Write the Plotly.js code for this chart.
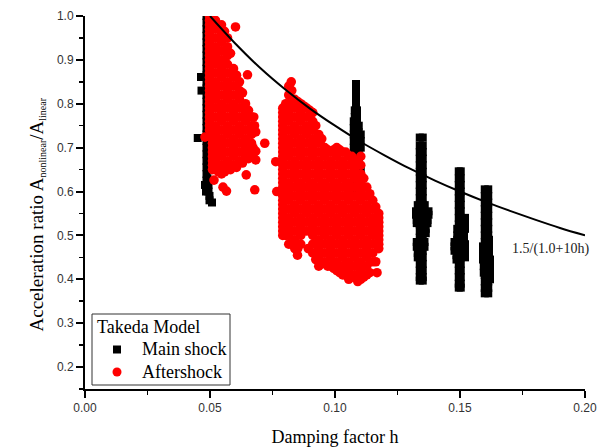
<!DOCTYPE html>
<html><head><meta charset="utf-8">
<script src="https://cdn.plot.ly/plotly-3.0.1.min.js"></script>
<style>html,body{margin:0;padding:0;background:#fff}</style></head>
<body><div id="chart" style="width:602px;height:447px"></div>
<script>
var curveX=[0.05,0.06,0.07,0.08,0.09,0.10,0.11,0.12,0.13,0.14,0.15,0.16,0.17,0.18,0.19,0.20];
var curveY=[1.0,0.938,0.882,0.833,0.789,0.75,0.714,0.682,0.652,0.625,0.6,0.577,0.556,0.536,0.517,0.5];

var mainColumnX=[0.0486,0.1084,0.1079,0.1088,0.1339,0.1351,0.1495,0.1503,0.1599,0.1613];
var mainColumnY=[
[1.0,0.985,0.97,0.955,0.94,0.925,0.91,0.895,0.88,0.865,0.85,0.835,0.82,0.805,0.79,0.775,0.76,0.745,0.73,0.715,0.70,0.685,0.67,0.655,0.64,0.625,0.61],
[0.845,0.83,0.815,0.80],
[0.785,0.77,0.755,0.74,0.725,0.71,0.695,0.68,0.665,0.65,0.635,0.62,0.605],
[0.785,0.77,0.755,0.74,0.725,0.71,0.695,0.68,0.665,0.65,0.635,0.62,0.605],
[0.723,0.705,0.69,0.675,0.66,0.645,0.63,0.615,0.60,0.585,0.57,0.555,0.54,0.525,0.51,0.495,0.48,0.465,0.45,0.435,0.42,0.405,0.397],
[0.723,0.705,0.69,0.675,0.66,0.645,0.63,0.615,0.60,0.585,0.57,0.555,0.54,0.525,0.51,0.495,0.48,0.465,0.45,0.435,0.42,0.405,0.397],
[0.646,0.63,0.615,0.60,0.585,0.57,0.555,0.54,0.525,0.51,0.495,0.48,0.465,0.45,0.435,0.42,0.405,0.39,0.381],
[0.646,0.63,0.615,0.60,0.585,0.57,0.555,0.54,0.525,0.51,0.495,0.48,0.465,0.45,0.435,0.42,0.405,0.39,0.381],
[0.605,0.59,0.575,0.56,0.545,0.53,0.515,0.50,0.485,0.47,0.455,0.44,0.425,0.41,0.395,0.38,0.368],
[0.605,0.59,0.575,0.56,0.545,0.53,0.515,0.50,0.485,0.47,0.455,0.44,0.425,0.41,0.395,0.38,0.368]
];
var mainExtraX=[0.0464,0.0466,0.0451,0.0490,0.0494,0.0494,0.0498,0.0498,0.0508,0.0480,0.0484,
0.1075,0.1075,0.1075,0.1075,0.1075,0.1095,0.1095,0.1095,0.1095,0.1095,0.1095,0.1103,0.1103,0.1103,0.1103,0.1103,0.1103,
0.1331,0.1324,0.1324,0.1327,0.1327,0.1359,0.1374,0.1374,0.1370,0.1370,0.1363,0.1363,0.1327,0.1327,0.1331,0.1331,0.1358,0.1358,
0.1520,0.1520,0.1520,0.1516,0.1516,0.1520,0.1520,0.1520,0.1520,0.1489,0.1489,0.1489,0.1478,0.1478,0.1478,0.1486,0.1486,
0.1592,0.1592,0.1592,0.1595,0.1595,0.1616,0.1616,0.1616,0.1620,0.1620,0.1620,0.1620];
var mainExtraY=[0.861,0.83,0.722,0.63,0.615,0.60,0.59,0.58,0.575,0.615,0.60,
0.76,0.745,0.73,0.715,0.70,0.75,0.735,0.72,0.705,0.69,0.675,0.73,0.715,0.70,0.65,0.635,0.62,
0.569,0.555,0.547,0.535,0.528,0.569,0.555,0.547,0.535,0.528,0.515,0.505,0.485,0.474,0.46,0.45,0.485,0.474,
0.54,0.528,0.515,0.505,0.495,0.48,0.47,0.46,0.45,0.515,0.50,0.49,0.485,0.475,0.465,0.455,0.445,
0.475,0.46,0.445,0.43,0.415,0.49,0.475,0.46,0.445,0.43,0.415,0.40];

var afterColumnX=[0.0498,0.0510,0.0522,0.0546,0.0570,0.0594,0.0618,0.0642,0.0666,
0.0791,0.0815,0.0839,0.0863,0.0887,0.0911,0.0935,0.0959,0.0983,0.1007,0.1031,0.1055,0.1079,0.1103,0.1127,0.1151,0.1175];
var afterColumnY=[
[1.0,0.98,0.96,0.94,0.92,0.90,0.88,0.86,0.84,0.82,0.80,0.78,0.76,0.74],
[0.73,0.71,0.69,0.67,0.65],
[0.99,0.97,0.95,0.93,0.91,0.89,0.87,0.85,0.83,0.81,0.79,0.77,0.75,0.73,0.71,0.69,0.67,0.65],
[0.98,0.96,0.94,0.92,0.90,0.88,0.86,0.84,0.82,0.80,0.78,0.76,0.74,0.72,0.70,0.68,0.66,0.64],
[0.95,0.93,0.91,0.89,0.87,0.85,0.83,0.81,0.79,0.77,0.75,0.73,0.71,0.69,0.67,0.65],
[0.88,0.86,0.84,0.82,0.80,0.78,0.76,0.74,0.72,0.70,0.68,0.66],
[0.85,0.83,0.81,0.79,0.77,0.75,0.73,0.71,0.69,0.67],
[0.80,0.78,0.76,0.74,0.72,0.70,0.68],
[0.77,0.75,0.73,0.71,0.69],
[0.79,0.77,0.75,0.73,0.71,0.69,0.67,0.65,0.63,0.61,0.59,0.57,0.55,0.53,0.51],
[0.84,0.82,0.80,0.78,0.76,0.74,0.72,0.70,0.68,0.66,0.64,0.62,0.60,0.58,0.56,0.54,0.52,0.50,0.48],
[0.81,0.79,0.77,0.75,0.73,0.71,0.69,0.67,0.65,0.63,0.61,0.59,0.57,0.55,0.53,0.51,0.49,0.47],
[0.80,0.78,0.76,0.74,0.72,0.70,0.68,0.66,0.64,0.62,0.60,0.58,0.56,0.54,0.52,0.50,0.48],
[0.79,0.77,0.75,0.73,0.71,0.69,0.67,0.65,0.63,0.61,0.59,0.57,0.55,0.53,0.51],
[0.78,0.76,0.74,0.72,0.70,0.68,0.66,0.64,0.62,0.60,0.58,0.56,0.54,0.52,0.50,0.48,0.46],
[0.73,0.71,0.69,0.67,0.65,0.63,0.61,0.59,0.57,0.55,0.53,0.51,0.49,0.47,0.45,0.43],
[0.70,0.68,0.66,0.64,0.62,0.60,0.58,0.56,0.54,0.52,0.50,0.48,0.46,0.44],
[0.69,0.67,0.65,0.63,0.61,0.59,0.57,0.55,0.53,0.51,0.49,0.47,0.45,0.43],
[0.70,0.68,0.66,0.64,0.62,0.60,0.58,0.56,0.54,0.52,0.50,0.48,0.46,0.44,0.42],
[0.69,0.67,0.65,0.63,0.61,0.59,0.57,0.55,0.53,0.51,0.49,0.47,0.45,0.43,0.41],
[0.68,0.66,0.64,0.62,0.60,0.58,0.56,0.54,0.52,0.50,0.48,0.46,0.44,0.42,0.40],
[0.67,0.65,0.63,0.61,0.59,0.57,0.55,0.53,0.51,0.49,0.47,0.45,0.43,0.41],
[0.68,0.66,0.64,0.62,0.60,0.58,0.56,0.54,0.52,0.50,0.48,0.46,0.44,0.42,0.40],
[0.61,0.59,0.57,0.55,0.53,0.51,0.49,0.47,0.45,0.43,0.41],
[0.58,0.56,0.54,0.52,0.50,0.48,0.46,0.44],
[0.55,0.53,0.51,0.49,0.47]
];
var afterScatterX=[0.0480,0.0602,0.0650,0.0719,0.0683,0.0683,0.0645,0.0679,0.0516,0.0552,0.0566,0.0675,0.0683,0.0763,0.0767,0.0825,0.1168,0.0893,0.0850];
var afterScatterY=[0.724,0.975,0.866,0.71,0.692,0.672,0.638,0.604,0.626,0.61,0.601,0.77,0.736,0.668,0.60,0.85,0.415,0.47,0.455];
var afterEdgeX=[0.0498,0.0498,0.0498,0.0498,0.0498,0.0498,0.0498,0.0498,0.0498,0.0498,0.0498,0.0498,0.0498,
0.0558,0.0582,0.0606,0.0630,0.0654,0.0678,0.0672,0.0672,0.0654,0.0630,0.0606,0.0582,0.0558,0.0534,0.0510,0.0510,0.0510,0.0510,
0.0791,0.0791,0.0791,0.0791,0.0791,0.0791,0.0791,0.0791,0.0791,0.0791,0.0791,0.0791,0.0791,0.0791,0.0791,
0.0803,0.0827,0.0851,0.0875,0.0899,0.0923,0.0947,0.0971,0.0995,0.1019,0.1043,0.1067,0.1091,0.1115,0.1139,0.1163,
0.1175,0.1175,0.1175,0.1175,
0.1163,0.1139,0.1115,0.1091,0.1067,0.1043,0.1019,0.0995,0.0971,0.0947,0.0923,0.0851,0.0827,0.0803];
var afterEdgeY=[0.99,0.97,0.95,0.93,0.91,0.89,0.87,0.85,0.83,0.81,0.79,0.77,0.75,
0.965,0.915,0.865,0.825,0.785,0.75,0.70,0.68,0.675,0.665,0.655,0.65,0.645,0.645,0.72,0.70,0.68,0.66,
0.78,0.76,0.74,0.72,0.70,0.68,0.66,0.64,0.62,0.60,0.58,0.56,0.54,0.52,0.50,
0.80,0.83,0.805,0.795,0.785,0.75,0.72,0.695,0.695,0.695,0.69,0.68,0.665,0.63,0.595,0.565,
0.54,0.52,0.50,0.48,
0.44,0.415,0.405,0.395,0.405,0.41,0.415,0.425,0.43,0.435,0.445,0.47,0.48,0.50];

var xTicks=[0,0.05,0.10,0.15,0.20];
var xTickLabels=["0.00","0.05","0.10","0.15","0.20"];
var yTicks=[0.2,0.3,0.4,0.5,0.6,0.7,0.8,0.9,1.0];
var yTickLabels=["0.2","0.3","0.4","0.5","0.6","0.7","0.8","0.9","1.0"];

function flatten(colX,colY,exX,exY){
  var xs=[],ys=[];
  colX.forEach(function(x,i){colY[i].forEach(function(y){xs.push(x);ys.push(y);});});
  return {x:xs.concat(exX),y:ys.concat(exY)};
}
var main=flatten(mainColumnX,mainColumnY,mainExtraX,mainExtraY);
var after=flatten(afterColumnX,afterColumnY,afterScatterX.concat(afterEdgeX),afterScatterY.concat(afterEdgeY));
var serif='"Liberation Serif","Times New Roman",serif';
var sans='"Liberation Sans",Arial,sans-serif';

var traces=[
 {type:'scatter',mode:'markers',name:'Main shock',x:main.x,y:main.y,marker:{symbol:'square',size:8,color:'#000'}},
 {type:'scatter',mode:'markers',name:'Aftershock',x:after.x,y:after.y,marker:{symbol:'circle',size:9.6,color:'#ff0000'}},
 {type:'scatter',mode:'lines',showlegend:false,x:curveX,y:curveY,line:{color:'#000',width:2,shape:'spline'}}
];
function axisBase(){return {showgrid:false,zeroline:false,showline:true,linecolor:'#000',linewidth:2,ticks:'outside',ticklen:7,tickwidth:2,tickcolor:'#000',
  tickfont:{family:sans,size:12,color:'#333'},tickmode:'array'};}
var xa=axisBase();
xa.range=[0,0.2];xa.tickvals=xTicks;xa.ticktext=xTickLabels;
xa.minor={ticks:'outside',ticklen:4,tickwidth:1.5,tickcolor:'#000',dtick:0.025,tick0:0,showgrid:false};
xa.title={text:'Damping factor h',font:{family:serif,size:18,color:'#000'},standoff:18};
var ya=axisBase();
ya.range=[0.15,1.0];ya.tickvals=yTicks;ya.ticktext=yTickLabels;
ya.minor={ticks:'outside',ticklen:4,tickwidth:1.5,tickcolor:'#000',dtick:0.05,tick0:0,showgrid:false};

function note(text,px,py,size,color,anchor,angle){
  return {xref:'paper',yref:'paper',x:(px-85)/500,y:(389-py)/373,xanchor:anchor||'left',yanchor:'middle',showarrow:false,
    text:text,textangle:angle||0,font:{family:serif,size:size,color:color||'#000'}};
}
var layout={width:602,height:447,margin:{l:85,r:17,t:16,b:58,pad:0},paper_bgcolor:'#fff',plot_bgcolor:'#fff',
 xaxis:xa,yaxis:ya,showlegend:false,
 shapes:[
  {type:'rect',xref:'paper',yref:'paper',x0:(92-85)/500,x1:(230-85)/500,y0:(389-385)/373,y1:(389-314)/373,fillcolor:'#fff',line:{color:'#333',width:1},layer:'above'},
  {type:'rect',xref:'paper',yref:'paper',x0:(113-85)/500,x1:(121-85)/500,y0:(389-353.5)/373,y1:(389-345.5)/373,fillcolor:'#000',line:{width:0},layer:'above'},
  {type:'circle',xref:'paper',yref:'paper',x0:(112.5-85)/500,x1:(121.5-85)/500,y0:(389-376.5)/373,y1:(389-367.5)/373,fillcolor:'#ff0000',line:{width:0},layer:'above'}
 ],
 annotations:[
  {x:0.1700,y:0.469,xref:'x',yref:'y',xanchor:'left',yanchor:'middle',showarrow:false,text:'1.5/(1.0+10h)',font:{family:serif,size:14,color:'#222'}},
  note('Acceleration ratio A<sub><span style="font-size:10px">nonlinear</span></sub>/A<sub><span style="font-size:10px">linear</span></sub>',37,214.5,19,'#000','center',-90),
  note('Takeda Model',95,327,18),
  note('Main shock',140,349,18),
  note('Aftershock',140,372,18)
 ]};
Plotly.newPlot('chart',traces,layout,{displayModeBar:false,staticPlot:true});
</script></body></html>
